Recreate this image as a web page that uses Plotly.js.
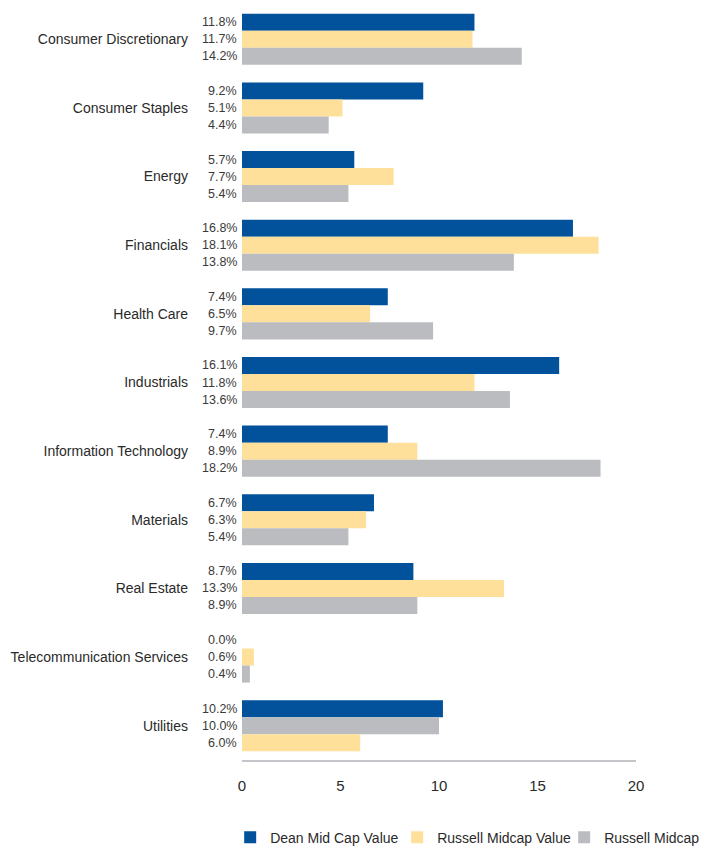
<!DOCTYPE html>
<html>
<head>
<meta charset="utf-8">
<script src="https://cdn.plot.ly/plotly-3.0.1.min.js"></script>
<style>html,body{margin:0;padding:0;background:#fff}#chart{width:701px;height:847px}</style>
</head>
<body>
<div id="chart"></div>
<script>
const categories = ["Consumer Discretionary","Consumer Staples","Energy","Financials","Health Care","Industrials","Information Technology","Materials","Real Estate","Telecommunication Services","Utilities"];
const seriesNames = ["Dean Mid Cap Value","Russell Midcap Value","Russell Midcap"];
const deanMidCapValue    = [11.8, 9.2, 5.7, 16.8, 7.4, 16.1, 7.4, 6.7, 8.7, 0.0, 10.2];
const russellMidcapValue = [11.7, 5.1, 7.7, 18.1, 6.5, 11.8, 8.9, 6.3, 13.3, 0.6, 10.0];
const russellMidcap      = [14.2, 4.4, 5.4, 13.8, 9.7, 13.6, 18.2, 5.4, 8.9, 0.4, 6.0];
const xTicks = [0, 5, 10, 15, 20];

const BLUE = "#02529B", YELLOW = "#FEE09B", GRAY = "#BBBCC0";
const series = [deanMidCapValue, russellMidcapValue, russellMidcap];
const baseColors = [BLUE, YELLOW, GRAY];
// In the reference, the Utilities group shows the middle and bottom bar colours swapped
const colorFor = (s, i) => {
  if (categories[i] === "Utilities" && s === 1) return GRAY;
  if (categories[i] === "Utilities" && s === 2) return YELLOW;
  return baseColors[s];
};

const traces = series.map((vals, s) => ({
  type: "bar",
  orientation: "h",
  name: seriesNames[s],
  y: categories,
  x: vals,
  marker: {color: vals.map((v, i) => colorFor(s, i)), line: {width: 0}},
  hoverinfo: "x+name"
}));

const bargap = 0.256;
const barW = (1 - bargap) / 3;
const annotations = [];
series.forEach((vals, s) => {
  vals.forEach((v, i) => {
    annotations.push({
      xref: "x", yref: "y",
      x: 0, y: i + (s - 1) * barW,
      xanchor: "right", yanchor: "middle",
      xshift: -3,
      text: v.toFixed(1) + "%",
      showarrow: false,
      font: {family: "Liberation Sans, Arial, sans-serif", size: 12.5, color: "#3a3a3a"}
    });
  });
});

const layout = {
  width: 701, height: 847,
  margin: {l: 242, r: 65, t: 5, b: 87, autoexpand: false},
  paper_bgcolor: "#fff", plot_bgcolor: "#fff",
  barmode: "group",
  bargap: bargap, bargroupgap: 0,
  font: {family: "Liberation Sans, Arial, sans-serif", color: "#2a2a2a"},
  xaxis: {
    range: [0, 20], tickvals: xTicks, ticktext: xTicks.map(String),
    showgrid: false, zeroline: false,
    showline: true, linecolor: "#C4C5C9", linewidth: 1.5,
    ticks: "", ticklabelstandoff: 11,
    tickfont: {size: 15, color: "#2a2a2a"},
    fixedrange: true
  },
  yaxis: {
    autorange: "reversed", type: "category",
    showgrid: false, zeroline: false, showline: false,
    ticks: "", ticklabelstandoff: 53,
    tickfont: {size: 14, color: "#2a2a2a"},
    fixedrange: true
  },
  showlegend: true,
  legend: {
    orientation: "h",
    x: -0.03, xanchor: "left",
    y: -0.103, yanchor: "middle",
    font: {size: 14, color: "#2a2a2a"},
    traceorder: "normal",
    entrywidth: 122
  },
  annotations: annotations
};

Plotly.newPlot("chart", traces, layout, {displayModeBar: false, staticPlot: true});
</script>
</body>
</html>
